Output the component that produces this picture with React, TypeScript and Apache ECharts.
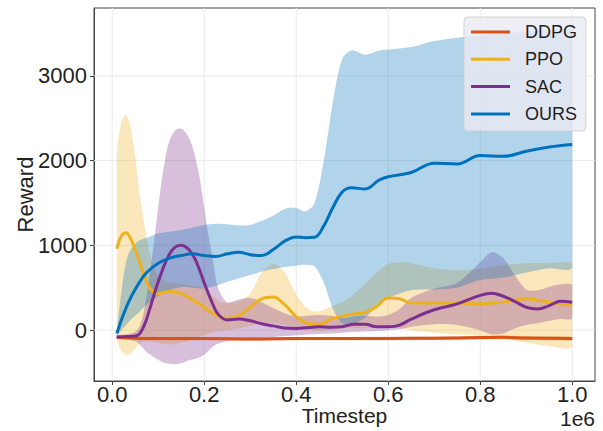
import React, { useEffect, useRef } from 'react';
import * as echarts from 'echarts';

const FONT = "'Liberation Sans', Arial, sans-serif";
const TEXT_COLOR = '#222222';
const FRAME_COLOR = '#444444';
const GRID_COLOR = '#ebebeb';

const X_TICKS = [0, 0.2, 0.4, 0.6, 0.8, 1.0];
const Y_TICKS = [0, 1000, 2000, 3000];
const SERIES_NAMES = ['DDPG', 'PPO', 'SAC', 'OURS'];
const SERIES_COLORS = ['#D95319', '#EDB120', '#7E2F8E', '#0072BD'];

// DDPG
const X_DDPG = [0.01, 0.05, 0.1, 0.2, 0.3, 0.4, 0.5, 0.6, 0.7, 0.8, 0.85, 0.9, 1.0];
const DDPG_MEAN = [-85, -95, -100, -100, -105, -100, -100, -98, -95, -88, -85, -92, -100];
const DDPG_LOW = [-105, -115, -120, -120, -125, -120, -120, -118, -115, -110, -108, -115, -122];
const DDPG_HIGH = [-65, -75, -80, -80, -85, -80, -80, -78, -75, -66, -62, -70, -78];

// PPO
const X_PPO = [0.01, 0.02, 0.03, 0.04, 0.05, 0.06, 0.07, 0.08, 0.09, 0.1, 0.115, 0.13, 0.15, 0.175, 0.2, 0.215, 0.23, 0.25, 0.275, 0.3, 0.325, 0.35, 0.375, 0.4, 0.425, 0.45, 0.475, 0.5, 0.525, 0.55, 0.575, 0.6, 0.625, 0.65, 0.7, 0.75, 0.8, 0.85, 0.9, 0.95, 1.0];
const PPO_MEAN = [960, 1110, 1150, 1080, 950, 800, 640, 510, 450, 430, 450, 460, 430, 360, 270, 210, 170, 140, 170, 270, 370, 390, 300, 160, 80, 70, 130, 165, 190, 210, 280, 380, 370, 320, 320, 320, 310, 330, 370, 330, 295];
const PPO_LOW = [-100, -250, -300, -280, -220, -160, -130, -130, -140, -150, -165, -170, -150, -110, -60, -30, -10, 0, 20, 50, 80, 80, 60, 30, 0, -10, 0, 20, 20, 20, 30, 30, 20, 0, -30, -50, -60, -90, -150, -190, -190];
const PPO_HIGH = [2050, 2450, 2540, 2400, 2050, 1600, 1250, 950, 750, 640, 580, 560, 540, 520, 490, 420, 350, 320, 340, 430, 680, 780, 680, 420, 250, 220, 280, 330, 420, 550, 680, 780, 800, 790, 730, 710, 720, 770, 790, 790, 770];

// SAC
const X_SAC = [0.01, 0.03, 0.05, 0.06, 0.07, 0.08, 0.09, 0.1, 0.11, 0.12, 0.13, 0.14, 0.15, 0.16, 0.17, 0.18, 0.19, 0.2, 0.21, 0.22, 0.23, 0.25, 0.275, 0.3, 0.325, 0.35, 0.375, 0.4, 0.425, 0.45, 0.475, 0.5, 0.525, 0.55, 0.575, 0.6, 0.625, 0.65, 0.7, 0.75, 0.8, 0.825, 0.85, 0.875, 0.9, 0.925, 0.95, 0.975, 1.0];
const SAC_MEAN = [-80, -75, -70, -40, 60, 220, 400, 570, 720, 850, 940, 990, 1000, 980, 930, 840, 710, 560, 420, 290, 190, 120, 130, 110, 75, 50, 25, 20, 30, 40, 35, 40, 70, 70, 40, 40, 60, 130, 240, 310, 410, 435, 400, 340, 270, 250, 290, 340, 330];
const SAC_LOW = [-100, -110, -130, -170, -230, -280, -320, -350, -380, -395, -400, -400, -390, -370, -350, -340, -320, -290, -240, -190, -160, -130, -110, -100, -90, -80, -70, -60, -50, -45, -40, -30, -20, -15, -10, 0, 10, 40, 70, 60, 0, -50, -40, 20, 60, 80, 110, 130, 140];
const SAC_HIGH = [-60, -50, -20, 50, 250, 600, 1000, 1450, 1850, 2150, 2300, 2370, 2380, 2330, 2230, 2050, 1800, 1450, 1100, 800, 500, 330, 360, 380, 330, 260, 200, 160, 170, 180, 170, 140, 160, 170, 160, 180, 250, 380, 490, 560, 800, 920, 850, 650, 480, 470, 510, 540, 530];

// OURS
const X_OURS = [0.01, 0.02, 0.03, 0.04, 0.05, 0.06, 0.075, 0.1, 0.125, 0.15, 0.175, 0.2, 0.225, 0.25, 0.275, 0.3, 0.325, 0.35, 0.375, 0.4, 0.42, 0.44, 0.46, 0.48, 0.5, 0.52, 0.55, 0.58, 0.6, 0.65, 0.7, 0.75, 0.8, 0.85, 0.9, 0.95, 1.0];
const OURS_MEAN = [-40, 120, 260, 380, 480, 570, 680, 790, 850, 880, 900, 880, 870, 900, 920, 890, 880, 950, 1050, 1100, 1090, 1095, 1230, 1450, 1630, 1680, 1665, 1770, 1810, 1860, 1970, 1960, 2060, 2050, 2110, 2160, 2190];
const OURS_LOW = [-60, 0, 60, 120, 170, 220, 300, 400, 470, 510, 500, 490, 520, 570, 610, 650, 690, 720, 745, 760, 770, 750, 560, 250, 80, 60, 150, 300, 380, 470, 480, 500, 590, 620, 680, 730, 745];
const OURS_HIGH = [-20, 450, 800, 950, 1020, 1060, 1090, 1140, 1160, 1180, 1210, 1240, 1255, 1250, 1235, 1240, 1290, 1350, 1430, 1440, 1400, 1500, 2000, 2700, 3200, 3300, 3250, 3300, 3310, 3340, 3410, 3450, 3480, 3500, 3520, 3540, 3550];

const SERIES_X = [X_DDPG, X_PPO, X_SAC, X_OURS];
const SERIES_MEAN = [DDPG_MEAN, PPO_MEAN, SAC_MEAN, OURS_MEAN];
const SERIES_LOW = [DDPG_LOW, PPO_LOW, SAC_LOW, OURS_LOW];
const SERIES_HIGH = [DDPG_HIGH, PPO_HIGH, SAC_HIGH, OURS_HIGH];

function bandSeries(idx: number) {
  const xs = SERIES_X[idx];
  const low = SERIES_LOW[idx];
  const high = SERIES_HIGH[idx];
  return {
    type: 'custom',
    name: SERIES_NAMES[idx] + ' band',
    silent: true,
    z: 2,
    data: [[xs[0], low[0]]],
    renderItem: (_params: any, api: any) => {
      const up = xs.map((x, i) => api.coord([x, high[i]]));
      const dn = xs.map((x, i) => api.coord([x, low[i]])).reverse();
      const pts = up.concat(dn);
      return {
        type: 'polygon',
        shape: { points: pts, smooth: 0.3, smoothConstraint: [pts[0], pts[0]] },
        style: { fill: SERIES_COLORS[idx], opacity: 0.3 },
      };
    },
  };
}

function meanSeries(idx: number) {
  const xs = SERIES_X[idx];
  return {
    type: 'line',
    name: SERIES_NAMES[idx],
    data: xs.map((x, i) => [x, SERIES_MEAN[idx][i]]),
    smooth: 0.4,
    symbol: 'none',
    showSymbol: false,
    z: 3 + idx,
    lineStyle: { color: SERIES_COLORS[idx], width: 3 },
    itemStyle: { color: SERIES_COLORS[idx] },
  };
}

function gridLines(vertical: boolean) {
  const ticks = vertical ? X_TICKS : Y_TICKS;
  return {
    type: 'custom',
    silent: true,
    z: 1,
    data: ticks.map((v) => (vertical ? [v, 0] : [0, v])),
    renderItem: (params: any, api: any) => {
      const cs = params.coordSys;
      if (vertical) {
        const x = api.coord([api.value(0), 0])[0];
        return { type: 'line', shape: { x1: x, y1: cs.y, x2: x, y2: cs.y + cs.height }, style: { stroke: GRID_COLOR, lineWidth: 1 } };
      }
      const y = api.coord([0, api.value(1)])[1];
      return { type: 'line', shape: { x1: cs.x, y1: y, x2: cs.x + cs.width, y2: y }, style: { stroke: GRID_COLOR, lineWidth: 1 } };
    },
  };
}

// legend drawn as graphic elements (box, line keys, labels)
const LEGEND_LEFT = 464;
const LEGEND_TOP = 17;
const LEGEND_W = 122;
const LEGEND_H = 114;
const LEGEND_ROW0 = 32;
const LEGEND_STEP = 27.3;

function legendGraphics() {
  const items: any[] = [
    {
      type: 'rect',
      z: 100,
      shape: { x: LEGEND_LEFT, y: LEGEND_TOP, width: LEGEND_W, height: LEGEND_H, r: 4 },
      style: { fill: 'rgba(234,234,242,0.8)', stroke: 'rgba(204,204,204,0.8)', lineWidth: 1 },
    },
  ];
  SERIES_NAMES.forEach((name, i) => {
    const y = LEGEND_ROW0 + i * LEGEND_STEP;
    items.push({
      type: 'line',
      z: 101,
      shape: { x1: LEGEND_LEFT + 7, y1: y, x2: LEGEND_LEFT + 46, y2: y },
      style: { stroke: SERIES_COLORS[i], lineWidth: 3 },
    });
    items.push({
      type: 'text',
      z: 101,
      x: LEGEND_LEFT + 61,
      y: y,
      style: { text: name, fontSize: 18, fontFamily: FONT, fill: TEXT_COLOR, verticalAlign: 'middle', align: 'left' },
    });
  });
  return items;
}

export default function App() {
  const ref = useRef<HTMLDivElement>(null);
  useEffect(() => {
    document.body.style.margin = '0';
    if (!ref.current) return;
    const chart = echarts.init(ref.current, undefined, { renderer: 'svg' });
    const option: any = {
      animation: false,
      backgroundColor: '#ffffff',
      textStyle: { fontFamily: FONT },
      grid: {
        left: 94, right: 8, top: 8, bottom: 50,
        outerBoundsMode: 'none',
        containLabel: false,
        show: true, borderColor: FRAME_COLOR, borderWidth: 1, backgroundColor: 'transparent',
      },
      xAxis: {
        type: 'value',
        min: -0.0395,
        max: 1.0495,
        name: 'Timestep',
        nameLocation: 'middle',
        nameGap: 27,
        nameMoveOverlap: false,
        nameTextStyle: { fontSize: 21, lineHeight: 14, color: TEXT_COLOR, fontFamily: FONT, verticalAlign: 'top' },
        axisLine: { show: true, onZero: false, lineStyle: { color: FRAME_COLOR, width: 1 } },
        axisTick: { show: true, length: 4, customValues: X_TICKS, lineStyle: { color: FRAME_COLOR } },
        axisLabel: { customValues: X_TICKS, fontSize: 22, lineHeight: 14, color: TEXT_COLOR, fontFamily: FONT, margin: 6, formatter: (v: number) => v.toFixed(1) },
        splitLine: { show: false },
      },
      yAxis: {
        type: 'value',
        min: -600,
        max: 3800,
        name: 'Reward',
        nameLocation: 'middle',
        nameGap: 58,
        nameMoveOverlap: false,
        nameTextStyle: { fontSize: 22, color: TEXT_COLOR, fontFamily: FONT },
        axisLine: { show: true, onZero: false, lineStyle: { color: FRAME_COLOR, width: 1 } },
        axisTick: { show: true, length: 4, customValues: Y_TICKS, lineStyle: { color: FRAME_COLOR } },
        axisLabel: { customValues: Y_TICKS, fontSize: 22, color: TEXT_COLOR, fontFamily: FONT, margin: 7, formatter: (v: number) => String(v) },
        splitLine: { show: false },
      },
      graphic: [
        { type: 'text', right: 8, top: 408, z: 100, style: { text: '1e6', fontSize: 21, lineHeight: 14, fontFamily: FONT, fill: TEXT_COLOR } },
        ...legendGraphics(),
      ],
      series: [
        gridLines(true),
        gridLines(false),
        ...SERIES_NAMES.map((_, i) => bandSeries(i)),
        ...SERIES_NAMES.map((_, i) => meanSeries(i)),
      ],
    };
    chart.setOption(option);
    return () => chart.dispose();
  }, []);
  return <div ref={ref} style={{ width: 603, height: 431 }} />;
}
